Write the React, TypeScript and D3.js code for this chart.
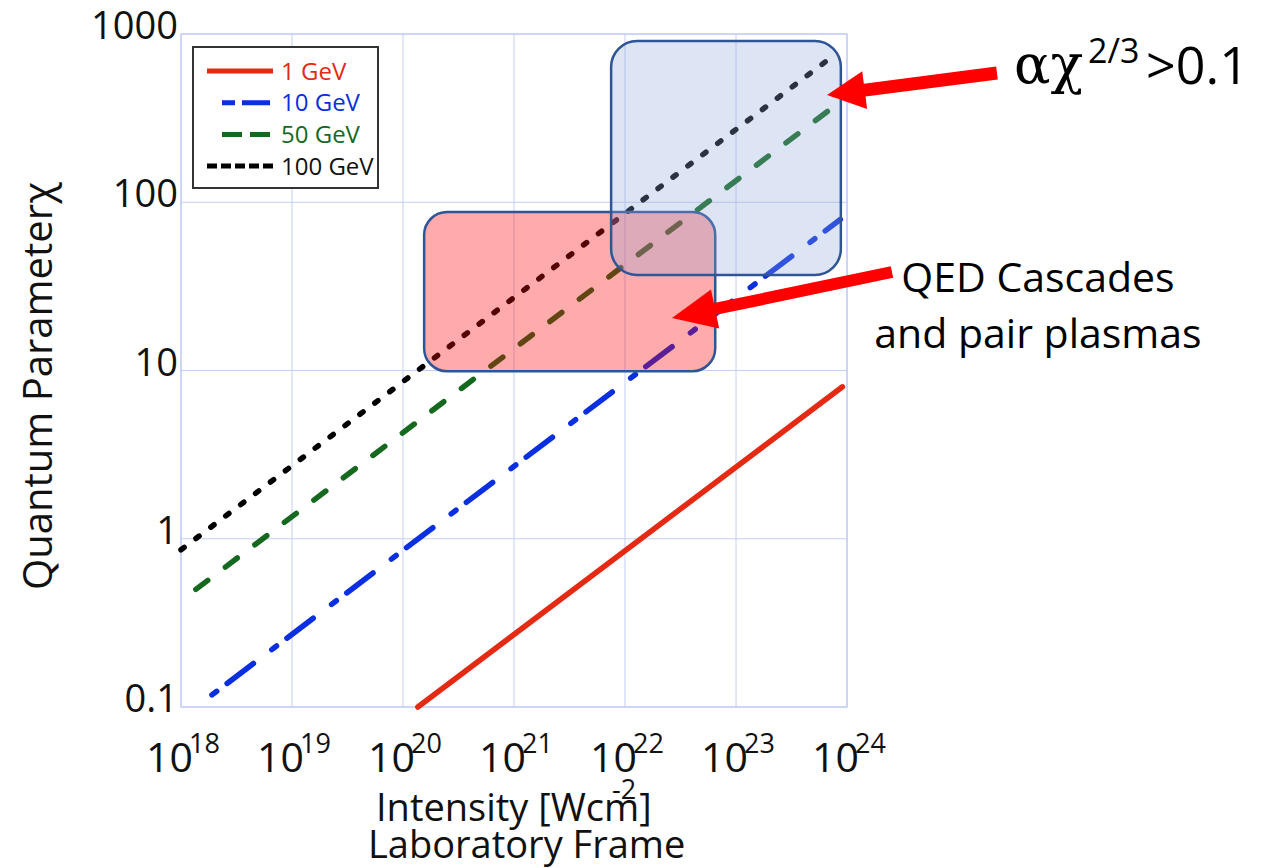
import React from "react";
import * as d3 from "d3";

// ---- data ----
const seriesNames = ["1 GeV", "10 GeV", "50 GeV", "100 GeV"];
const seriesColors = ["#e42a12", "#0a2fe0", "#14691e", "#000000"];
const intensityStart = [1.36e20, 1.9e18, 1.36e18, 1.0e18];
const chiStart = [0.1, 0.118, 0.5, 0.86];
const intensityEnd = [9.1e23, 8.7e23, 7.4e23, 8.1e23];
const chiEnd = [8.0, 79, 365, 770];

const xTickExponents = [18, 19, 20, 21, 22, 23, 24];
const yTickValues = [0.1, 1, 10, 100, 1000];
const yTickLabels = ["0.1", "1", "10", "100", "1000"];

// highlighted regions [I0, I1, chi0, chi1]
const cascadeBox = [1.55e20, 6.5e22, 9.9, 87.5];
const alphaBox = [7.5e21, 8.8e23, 37, 908];

const W = 1266;
const H = 868;
const FONT = "'Open Sans', 'Noto Sans', sans-serif";

const x = d3.scaleLog().domain([1e18, 1e24]).range([181, 847]);
const y = d3.scaleLog().domain([0.1, 1000]).range([707, 34]);

const dashes = [null, "6 13 33 23", "15 22", "4 14.7"];
const legendDashes = [null, "13 7 28 100", "20 8", "10 4"];
const legendStart = [207, 222, 222, 207];

function arrowPoints(x0: number, y0: number, x1: number, y1: number, shaft: number, headLen: number, headW: number) {
  const dx = x1 - x0, dy = y1 - y0;
  const L = Math.hypot(dx, dy);
  const ux = dx / L, uy = dy / L;
  const nx = -uy, ny = ux;
  const bx = x1 - ux * headLen, by = y1 - uy * headLen;
  const pts = [
    [x0 + nx * shaft / 2, y0 + ny * shaft / 2],
    [bx + nx * shaft / 2, by + ny * shaft / 2],
    [bx + nx * headW / 2, by + ny * headW / 2],
    [x1, y1],
    [bx - nx * headW / 2, by - ny * headW / 2],
    [bx - nx * shaft / 2, by - ny * shaft / 2],
    [x0 - nx * shaft / 2, y0 - ny * shaft / 2],
  ];
  return pts.map((p) => p.join(",")).join(" ");
}

export default function App() {
  const line = d3
    .line<[number, number]>()
    .x((d) => x(d[0]))
    .y((d) => y(d[1]));

  const boxRect = (b: number[]) => ({
    x: x(b[0]),
    y: y(b[3]),
    width: x(b[1]) - x(b[0]),
    height: y(b[2]) - y(b[3]),
  });
  const rb = boxRect(cascadeBox);
  const bb = boxRect(alphaBox);

  const [x0, x1] = x.range();
  const [y0, y1] = y.range();

  return (
    <svg
      width={W}
      height={H}
      style={{ position: "absolute", left: 0, top: 0, background: "#fff" }}
      fontFamily={FONT}
    >
      {/* grid */}
      {xTickExponents.map((e) => (
        <line key={"gx" + e} x1={x(Math.pow(10, e))} x2={x(Math.pow(10, e))} y1={y1} y2={y0} stroke="#c6cef4" strokeWidth={1} />
      ))}
      {yTickValues.map((v) => (
        <line key={"gy" + v} x1={x0} x2={x1} y1={y(v)} y2={y(v)} stroke="#c6cef4" strokeWidth={1} />
      ))}
      <rect x={x0} y={y1} width={x1 - x0} height={y0 - y1} fill="none" stroke="#c0c9f2" strokeWidth={1.2} />

      {/* series */}
      {seriesNames.map((n, i) => (
        <path
          key={n}
          d={line([
            [intensityStart[i], chiStart[i]],
            [intensityEnd[i], chiEnd[i]],
          ]) as string}
          fill="none"
          stroke={seriesColors[i]}
          strokeWidth={5.5}
          strokeLinecap="round"
          strokeDasharray={dashes[i] ?? undefined}
        />
      ))}

      {/* highlight boxes */}
      <rect {...rb} rx={23} ry={23} fill="#ff0000" fillOpacity={0.33} stroke="#2f5597" strokeWidth={2.5} />
      <rect {...bb} rx={26} ry={26} fill="#8faadc" fillOpacity={0.3} stroke="#2f5597" strokeWidth={2.5} />

      {/* legend */}
      <rect x={193} y={47} width={185} height={141} fill="#fff" stroke="#333" strokeWidth={2} />
      {seriesNames.map((n, i) => {
        const ly = 71 + i * 31.7;
        return (
          <g key={"lg" + n}>
            <line
              x1={legendStart[i]}
              x2={273}
              y1={ly}
              y2={ly}
              stroke={seriesColors[i]}
              strokeWidth={5}
              strokeDasharray={legendDashes[i] ?? undefined}
            />
            <text x={281} y={ly + 8.5} fontSize={24} fill={seriesColors[i] === "#000000" ? "#111" : seriesColors[i]}>
              {n}
            </text>
          </g>
        );
      })}

      {/* y tick labels */}
      {yTickValues.map((v, i) => (
        <text key={"yl" + v} x={178} y={y(v) + 5} fontSize={38} textAnchor="end" fill="#111">
          {yTickLabels[i]}
        </text>
      ))}

      {/* x tick labels */}
      {xTickExponents.map((e) => (
        <text key={"xl" + e} x={x(Math.pow(10, e)) + 2} y={772} textAnchor="middle" fill="#111">
          <tspan fontSize={41}>10</tspan>
          <tspan fontSize={27} dy={-19} dx={-4}>
            {e}
          </tspan>
        </text>
      ))}

      {/* axis titles */}
      <text transform="translate(52,386) rotate(-90)" textAnchor="middle" fontSize={40} fill="#111">
        Quantum Parameterχ
      </text>
      <text x={376} y={821} fontSize={38} fill="#111">
        Intensity [Wcm]
      </text>
      <text x={612} y={799} fontSize={27} fill="#111">
        -2
      </text>
      <text x={368} y={858} fontSize={38} fill="#111">
        Laboratory Frame
      </text>

      {/* arrows */}
      <polygon points={arrowPoints(997, 73, 827, 95, 13, 38, 38)} fill="#ff0000" />
      <polygon points={arrowPoints(892, 272, 672, 318, 12, 44, 40)} fill="#ff0000" />

      {/* annotations */}
      <text x={1014} y={83} fill="#000" fontFamily="'DejaVu Serif', 'Liberation Serif', serif" fontSize={54}>
        αχ
      </text>
      <text x={1088} y={63} fill="#000" fontSize={34}>
        2/3
      </text>
      <text x={1146} y={84} fill="#000" fontSize={52}>
        &gt;0.1
      </text>
      <text x={1038} y={292} fontSize={41} textAnchor="middle" fill="#000">
        QED Cascades
      </text>
      <text x={1038} y={348} fontSize={41} textAnchor="middle" fill="#000">
        and pair plasmas
      </text>
    </svg>
  );
}
